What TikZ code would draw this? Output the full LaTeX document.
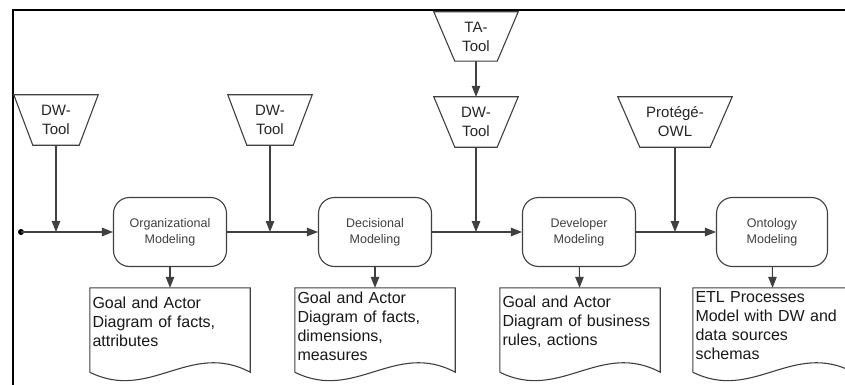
\documentclass[tikz,border=0pt]{standalone}
\usepackage{fontspec}
\setmainfont{Liberation Sans}
\usetikzlibrary{arrows.meta,calc}
\tikzset{
  ln/.style={draw=black!75, line width=1.1pt},
  arr/.style={ln, -{Triangle[length=11pt,width=8.5pt]}},
  tool/.style={inner sep=0pt, minimum height=50pt, align=center, text=black!85,
    font=\fontsize{15}{19}\selectfont},
  proc/.style={ln, rounded corners=16pt, minimum width=113pt, minimum height=69pt,
    align=center, text=black!75, font=\fontsize{12.5}{16}\selectfont},
  docbox/.style={inner sep=0pt, minimum width=160pt, minimum height=84pt},
  doctext/.style={inner sep=0pt, text width=157pt, align=left, text=black!90,
    font=\fontsize{16}{19}\selectfont},
}
\newcommand\trapdraw[2]{\draw[ln] (#1.north west) -- (#1.north east) -- ([xshift=-#2]#1.south east) -- ([xshift=#2]#1.south west) -- cycle;}
\newcommand\docdraw[1]{\draw[ln] (#1.south west) -- (#1.north west) -- (#1.north east) -- (#1.south east) .. controls +(-60,-32) and +(60,30) .. (#1.south west);}
\begin{document}
\begin{tikzpicture}[x=1pt,y=-1pt]
\clip (0,0) rectangle (845,385);
\fill[white] (0,0) rectangle (845,385);
% frame
\draw[line width=2pt] (13,385) -- (13,10) -- (845,10);

% tools
\node[tool, minimum width=84pt] (dw1) at (56,120) {DW-\\Tool};
\trapdraw{dw1}{19}
\node[tool, minimum width=84pt] (dw2) at (270,120) {DW-\\Tool};
\trapdraw{dw2}{19}
\node[tool, minimum width=84pt, minimum height=49pt] (ta) at (476,36.5) {TA-\\Tool};
\trapdraw{ta}{21}
\node[tool, minimum width=84pt] (dw3) at (476,122) {DW-\\Tool};
\trapdraw{dw3}{21}
\node[tool, minimum width=114pt] (po) at (675,122) {Protégé-\\OWL};
\trapdraw{po}{22}

% processes
\node[proc] (org) at (170,232) {Organizational\\Modeling};
\node[proc] (dec) at (375,232) {Decisional\\Modeling};
\node[proc] (dev) at (579,232) {Developer\\Modeling};
\node[proc, minimum width=111pt] (ont) at (772,232) {Ontology\\Modeling};

% start
\coordinate (start) at (21,232);
\fill[black] (start) circle (3pt);

% main flow
\draw[arr] (start) -- (org);
\draw[arr] (org) -- (dec);
\draw[arr] (dec) -- (dev);
\draw[arr] (dev) -- (ont);

% tool inputs
\draw[arr] (dw1.south) -- (dw1.south |- org.west);
\draw[arr] (dw2.south) -- (dw2.south |- dec.west);
\draw[arr] (ta.south) -- (dw3.north);
\draw[arr] (dw3.south) -- (dw3.south |- dev.west);
\draw[arr] (po.south) -- (po.south |- ont.west);

% documents
\node[docbox] (d1) at (170,330) {};
\docdraw{d1}
\node[doctext] (d1t) at (171,322) {Goal and Actor\\Diagram of facts,\\attributes};
\node[docbox] (d2) at (375,330) {};
\docdraw{d2}
\node[doctext] (d2t) at (376,326) {Goal and Actor\\Diagram of facts,\\dimensions,\\measures};
\node[docbox] (d3) at (580,330) {};
\docdraw{d3}
\node[doctext] (d3t) at (581,322) {Goal and Actor\\Diagram of business\\rules, actions};
\node[docbox] (d4) at (773,330) {};
\docdraw{d4}
\node[doctext] (d4t) at (774,326) {ETL Processes\\Model with DW and\\data sources\\schemas};

\draw[arr] (org) -- (d1);
\draw[arr] (dec.south -| d2.north) -- (d2.north);
\draw[arr] (dev) -- (d3);
\draw[arr] (ont) -- (d4);
\end{tikzpicture}
\end{document}
